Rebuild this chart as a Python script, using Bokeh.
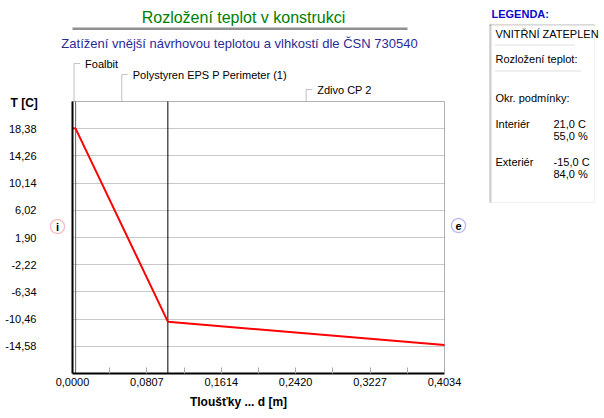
import math
from bokeh.plotting import figure
from bokeh.models import (Range1d, FixedTicker, CustomJSTickFormatter, Label,
                          BoxAnnotation, PolyAnnotation)
from bokeh.embed import file_html
from bokeh.resources import INLINE

# ---------------- data ----------------
title_text = "Rozložení teplot v konstrukci"
subtitle_text = "Zatížení vnější návrhovou teplotou a vlhkostí dle ČSN 730540"
layer_names = ["Foalbit", "Polystyren EPS P Perimeter (1)", "Zdivo CP 2"]
layer_thickness = [0.0034, 0.1000, 0.3000]
temp_x = [0.0, 0.0034, 0.1034, 0.4034]
temp_y = [18.45, 18.40, -10.85, -14.40]
y_ticks = [-14.58, -10.46, -6.34, -2.22, 1.90, 6.02, 10.14, 14.26, 18.38]
y_start, y_end = -18.70, 22.50
x_ticks = [0.0, 0.0807, 0.1614, 0.2420, 0.3227, 0.4034]
x_minor_ticks = [0.0403, 0.1210, 0.2017, 0.2824, 0.3630]
y_label = "T [C]"
x_label = "Tloušťky ... d [m]"
legend_heading = "LEGENDA:"
legend_header_lines = ["VNITŘNÍ ZATEPLEN", "Rozložení teplot:", "Okr. podmínky:"]
cond_names = ["Interiér", "Exteriér"]
cond_temp = [21.0, -15.0]
cond_rh = [55.0, 84.0]

# ---------------- layout ----------------
W, H = 604, 418
FL, FR, FT, FB = 72, 444, 101, 373      # pixel box of the temperature chart
FONT = "Liberation Sans"

def sx(px):
    return px

def sy(py):
    return H - py

total = max(sum(layer_thickness), x_ticks[-1])
bounds = [sum(layer_thickness[:i + 1]) for i in range(len(layer_thickness))]
mids = [b - t / 2 for b, t in zip(bounds, layer_thickness)]

# the frame covers the whole canvas; ranges are widened so that the chart box
# [0, total] x [y_start, y_end] lands on the pixel box above
kx = total / (FR - FL)
ky = (y_end - y_start) / (FB - FT)
p = figure(width=W, height=H, output_backend="svg", toolbar_location=None,
           x_range=Range1d(-FL * kx, total + (W - FR) * kx),
           y_range=Range1d(y_start - (H - FB) * ky, y_end + FT * ky),
           min_border=0)
p.background_fill_color = "white"
p.border_fill_color = "white"
p.outline_line_color = None

xa = p.xaxis[0]
xa.fixed_location = y_start
xa.bounds = (0, total)
xa.ticker = FixedTicker(ticks=x_ticks, minor_ticks=x_minor_ticks)
xa.formatter = CustomJSTickFormatter(code="return tick.toFixed(4).replace('.', ',');")
xa.axis_line_color = "black"
xa.axis_line_width = 2
xa.major_tick_in = 6
xa.major_tick_out = 0
xa.minor_tick_in = 6
xa.minor_tick_out = 0
xa.major_tick_line_color = "#a8a8a8"
xa.minor_tick_line_color = "#a8a8a8"
xa.major_label_text_font = FONT
xa.major_label_text_font_size = "11px"
xa.major_label_text_color = "black"
xa.major_label_standoff = 4

ya = p.yaxis[0]
ya.fixed_location = 0
ya.bounds = (y_start, y_end)
ya.ticker = FixedTicker(ticks=y_ticks, minor_ticks=[])
ya.formatter = CustomJSTickFormatter(code="return tick.toFixed(2).replace('.', ',');")
ya.axis_line_color = "black"
ya.axis_line_width = 2
ya.major_tick_line_color = None
ya.minor_tick_line_color = None
ya.major_label_text_font = FONT
ya.major_label_text_font_size = "11px"
ya.major_label_text_color = "black"
ya.major_label_standoff = 30

p.xgrid.visible = False
p.ygrid.grid_line_color = "#c8c8c8"
p.ygrid.grid_line_width = 1
use_cross = "cross_bounds" in p.ygrid.properties()
if use_cross:
    p.ygrid.cross_bounds = (0, total)


def box(l, r, t, b, **kw):
    p.add_layout(BoxAnnotation(left=sx(l), right=sx(r), top=sy(t), bottom=sy(b),
                               left_units="screen", right_units="screen",
                               top_units="screen", bottom_units="screen", **kw))

def pline(xs, ys, **kw):
    # open polyline drawn as a degenerate polygon that retraces its own path
    xs2 = list(xs) + list(xs)[-2:0:-1]
    ys2 = list(ys) + list(ys)[-2:0:-1]
    p.add_layout(PolyAnnotation(xs=[sx(v) for v in xs2], ys=[sy(v) for v in ys2],
                                xs_units="screen", ys_units="screen",
                                fill_alpha=0, **kw))

if not use_cross:
    box(0, FL - 1, FT, FB, fill_color="white", fill_alpha=1, line_color=None, level="underlay")
    box(FR + 1, W, FT, FB, fill_color="white", fill_alpha=1, line_color=None, level="underlay")

# chart box outline
p.add_layout(BoxAnnotation(left=0, right=total, bottom=y_start, top=y_end,
                           fill_alpha=0, line_color="black", line_width=1, level="underlay"))

# layer boundaries
p.segment(x0=bounds[:-1], y0=y_start, x1=bounds[:-1], y1=y_end,
          line_color=["#606060", "black"], line_width=1)

# temperature profile
p.line(temp_x, temp_y, line_color="#ff0000", line_width=2)

# ---------------- texts ----------------
def lab(text, x, y, size="11px", color="black", style="normal", align="left", **kw):
    p.add_layout(Label(x=x, y=y, x_units=kw.pop("x_units", "screen"), y_units="screen",
                       text=text, text_font=FONT, text_font_size=size,
                       text_color=color, text_font_style=style, text_align=align,
                       text_baseline="middle", **kw))

lab(title_text, sx(243), sy(17), size="16px", color="#008000", align="center")
box(72, 407, 27, 29.5, fill_color="#909090", fill_alpha=1, line_color=None)
lab(subtitle_text, sx(239), sy(43), size="13px", color="#2b2b99", align="center")

lab(y_label, sx(10), sy(102), size="12px", style="bold")
lab(x_label, sx(238), sy(401), size="12px", style="bold", align="center")

# layer name call-outs
label_py = [63, 74, 89]
dx = 6 * kx
for name, m, py in zip(layer_names, mids, label_py):
    p.add_layout(PolyAnnotation(xs=[m, m, m + dx, m],
                                ys=[sy(FT), sy(py), sy(py), sy(py)],
                                xs_units="data", ys_units="screen",
                                fill_alpha=0, line_color="#909090", line_width=1))
    lab(name, m, sy(py), x_units="data", x_offset=11)

# side markers
def ring(cx, cy, r, color):
    n = 40
    xs = [sx(cx + r * math.cos(2 * math.pi * k / n)) for k in range(n)]
    ys = [sy(cy + r * math.sin(2 * math.pi * k / n)) for k in range(n)]
    p.add_layout(PolyAnnotation(xs=xs, ys=ys, xs_units="screen", ys_units="screen",
                                fill_color="white", fill_alpha=1,
                                line_color=color, line_width=1.3))

ring(57, 226, 7, "#e01830")
lab("i", sx(57), sy(226), size="11px", style="bold", align="center")
ring(458, 225, 7, "#1414c8")
lab("e", sx(458), sy(225), size="11px", style="bold", align="center")

# legend panel
lab(legend_heading, sx(491), sy(13), size="11px", color="#0a0acc", style="bold")
box(489, 594, 24, 202, fill_color="white", fill_alpha=1, line_color="#d0d0d0", line_width=1)
pline([490, 490], [24, 202], line_color="#5a5a5a", line_width=2)
pline([489, 594], [24.5, 24.5], line_color="#5a5a5a", line_width=1)
lab(legend_header_lines[0], sx(495), sy(33))
pline([495, 575], [44.5, 44.5], line_color="#303030", line_width=1, line_dash="1 1")
lab(legend_header_lines[1], sx(495), sy(58))
pline([495, 581], [70.5, 70.5], line_color="#303030", line_width=1, line_dash="1 1")
lab(legend_header_lines[2], sx(495), sy(97))
for i, (nm, t, rh) in enumerate(zip(cond_names, cond_temp, cond_rh)):
    y0 = 123 + 38 * i
    lab(nm, sx(495), sy(y0))
    lab(f"{t:.1f} C".replace(".", ","), sx(553), sy(y0))
    lab(f"{rh:.1f} %".replace(".", ","), sx(553), sy(y0 + 12))

open("out.html", "w").write(file_html(p, INLINE))
